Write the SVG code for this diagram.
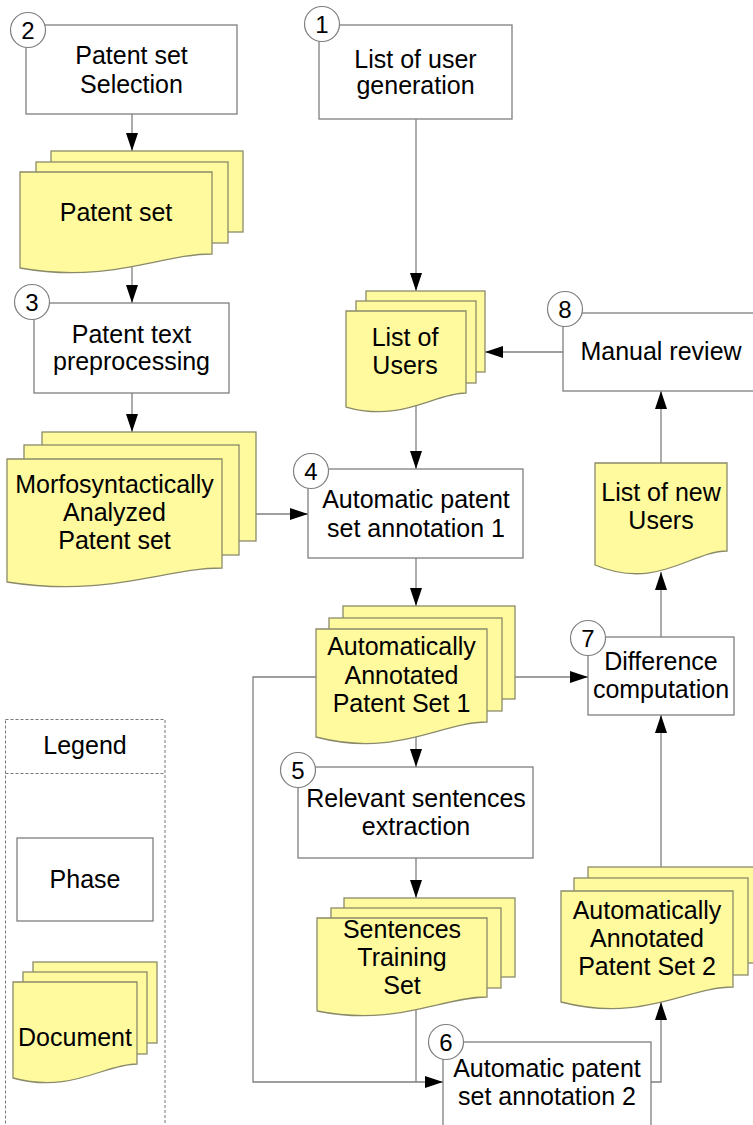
<svg xmlns="http://www.w3.org/2000/svg" width="753" height="1125" viewBox="0 0 753 1125">
<style>
.box{fill:#fff;stroke:#7f7f7f;stroke-width:1.3}
.doc{fill:#fffa9e;stroke:#8a8a6a;stroke-width:1.3}
.num{fill:#fff;stroke:#7f7f7f;stroke-width:1.2}
.conn{fill:none;stroke:#7f7f7f;stroke-width:1.3}
text{font-family:"Liberation Sans",Arial,sans-serif;font-size:25px;fill:#000;text-anchor:middle}
.n{font-size:24px}
.leg{fill:none;stroke:#777;stroke-width:1;stroke-dasharray:3,2}
</style>
<defs>
<marker id="ah" markerUnits="userSpaceOnUse" markerWidth="18" markerHeight="12" refX="18" refY="6" orient="auto">
<path d="M0,0 L18,6 L0,12 Z" fill="#000"/>
</marker>
</defs>
<rect width="753" height="1125" fill="#fff"/>

<g id="connectors">
<path class="conn" d="M132,114 V151" marker-end="url(#ah)"/>
<path class="conn" d="M132,264 V303" marker-end="url(#ah)"/>
<path class="conn" d="M132,393 V432" marker-end="url(#ah)"/>
<path class="conn" d="M256,514 H308" marker-end="url(#ah)"/>
<path class="conn" d="M416,119 V291" marker-end="url(#ah)"/>
<path class="conn" d="M416,404 V469" marker-end="url(#ah)"/>
<path class="conn" d="M563,352 H485" marker-end="url(#ah)"/>
<path class="conn" d="M661,463 V391" marker-end="url(#ah)"/>
<path class="conn" d="M661,637 V572" marker-end="url(#ah)"/>
<path class="conn" d="M416,558 V606" marker-end="url(#ah)"/>
<path class="conn" d="M515,677 H588" marker-end="url(#ah)"/>
<path class="conn" d="M416,733 V767" marker-end="url(#ah)"/>
<path class="conn" d="M416,858 V898" marker-end="url(#ah)"/>
<path class="conn" d="M416,1008 V1082"/>
<path class="conn" d="M316,677 H253 V1082 H443" marker-end="url(#ah)"/>
<path class="conn" d="M651,1082 H661 V1002" marker-end="url(#ah)"/>
<path class="conn" d="M661,867 V715" marker-end="url(#ah)"/>
</g>

<g id="n1">
<rect class="box" x="319" y="25" width="193" height="94"/>
<circle class="num" cx="322" cy="24" r="17.5"/>
<text class="n" x="322" y="32.5">1</text>
<text x="415.5" y="68">List of user</text>
<text x="415.5" y="94">generation</text>
</g>

<g id="n2">
<rect class="box" x="26" y="25" width="211" height="89"/>
<circle class="num" cx="28" cy="30" r="17.5"/>
<text class="n" x="28" y="38.5">2</text>
<text x="131.5" y="64">Patent set</text>
<text x="131.5" y="93">Selection</text>
</g>

<g id="doc-patent-set">
<rect class="doc" x="51" y="151" width="192" height="81"/>
<rect class="doc" x="36" y="162" width="192" height="81"/>
<path class="doc" d="M20,172 H212 V254 C160,254 110,284 20,268 Z"/>
<text x="116" y="221">Patent set</text>
</g>

<g id="n3">
<rect class="box" x="34" y="303" width="195" height="90"/>
<circle class="num" cx="32" cy="302" r="17.5"/>
<text class="n" x="32" y="310.5">3</text>
<text x="131.5" y="343">Patent text</text>
<text x="131.5" y="370">preprocessing</text>
</g>

<g id="doc-morfo">
<rect class="doc" x="42" y="432" width="214" height="109"/>
<rect class="doc" x="24" y="445" width="215" height="110"/>
<path class="doc" d="M7,459 H222 V568 C164,568 108,598 7,582 Z"/>
<text x="114.5" y="493">Morfosyntactically</text>
<text x="114.5" y="521">Analyzed</text>
<text x="114.5" y="549">Patent set</text>
</g>

<g id="doc-users">
<rect class="doc" x="366" y="291" width="119" height="81"/>
<rect class="doc" x="356" y="301" width="120" height="82"/>
<path class="doc" d="M346,311 H466 V393 C434,393 402,423 346,407 Z"/>
<text x="405" y="346">List of</text>
<text x="405" y="374">Users</text>
</g>

<g id="n8">
<rect class="box" x="563" y="313" width="210" height="78"/>
<circle class="num" cx="565" cy="309" r="17.5"/>
<text class="n" x="565" y="317.5">8</text>
<text x="661" y="360">Manual review</text>
</g>

<g id="n4">
<rect class="box" x="308" y="469" width="215" height="89"/>
<circle class="num" cx="311" cy="471" r="17.5"/>
<text class="n" x="311" y="479.5">4</text>
<text x="416" y="508">Automatic patent</text>
<text x="416" y="537">set annotation 1</text>
</g>

<g id="doc-new-users">
<path class="doc" d="M595,463 H727 V551 C691,551 657,591 595,565 Z"/>
<text x="661" y="501">List of new</text>
<text x="661" y="529">Users</text>
</g>

<g id="doc-aaps1">
<rect class="doc" x="343" y="606" width="172" height="93"/>
<rect class="doc" x="329" y="618" width="173" height="93"/>
<path class="doc" d="M316,629 H487 V722 C441,722 396,758 316,737 Z"/>
<text x="401.5" y="655">Automatically</text>
<text x="401.5" y="684">Annotated</text>
<text x="401.5" y="712">Patent Set 1</text>
</g>

<g id="n7">
<rect class="box" x="588" y="637" width="146" height="78"/>
<circle class="num" cx="588" cy="638" r="17.5"/>
<text class="n" x="588" y="646.5">7</text>
<text x="661" y="670">Difference</text>
<text x="661" y="698">computation</text>
</g>

<g id="n5">
<rect class="box" x="298" y="767" width="235" height="91"/>
<circle class="num" cx="298" cy="770" r="17.5"/>
<text class="n" x="298" y="778.5">5</text>
<text x="416" y="807">Relevant sentences</text>
<text x="416" y="835">extraction</text>
</g>

<g id="doc-sentences">
<rect class="doc" x="344" y="898" width="171" height="79"/>
<rect class="doc" x="331" y="908" width="170" height="80"/>
<path class="doc" d="M317,918 H487 V997 C441,997 397,1027 317,1011 Z"/>
<text x="402" y="938">Sentences</text>
<text x="402" y="966">Training</text>
<text x="402" y="994">Set</text>
</g>

<g id="doc-aaps2">
<rect class="doc" x="588" y="867" width="172" height="96"/>
<rect class="doc" x="574" y="878" width="174" height="97"/>
<path class="doc" d="M561,891 H733 V987 C687,987 642,1023 561,1002 Z"/>
<text x="647" y="919">Automatically</text>
<text x="647" y="947">Annotated</text>
<text x="647" y="975">Patent Set 2</text>
</g>

<g id="n6">
<rect class="box" x="443" y="1042" width="208" height="93"/>
<circle class="num" cx="446" cy="1042" r="17.5"/>
<text class="n" x="446" y="1050.5">6</text>
<text x="547" y="1077">Automatic patent</text>
<text x="547" y="1105">set annotation 2</text>
</g>

<g id="legend">
<rect class="leg" x="5.5" y="719.5" width="159.5" height="410"/>
<line class="leg" x1="5.5" y1="773.5" x2="165" y2="773.5"/>
<text x="85" y="754">Legend</text>
<rect class="box" x="17" y="838" width="136" height="83"/>
<text x="85" y="888">Phase</text>
<rect class="doc" x="33" y="962" width="124" height="81"/>
<rect class="doc" x="23" y="972" width="124" height="82"/>
<path class="doc" d="M13,982 H137 V1064 C104,1064 71,1094 13,1078 Z"/>
<text x="75" y="1046">Document</text>
</g>
</svg>
